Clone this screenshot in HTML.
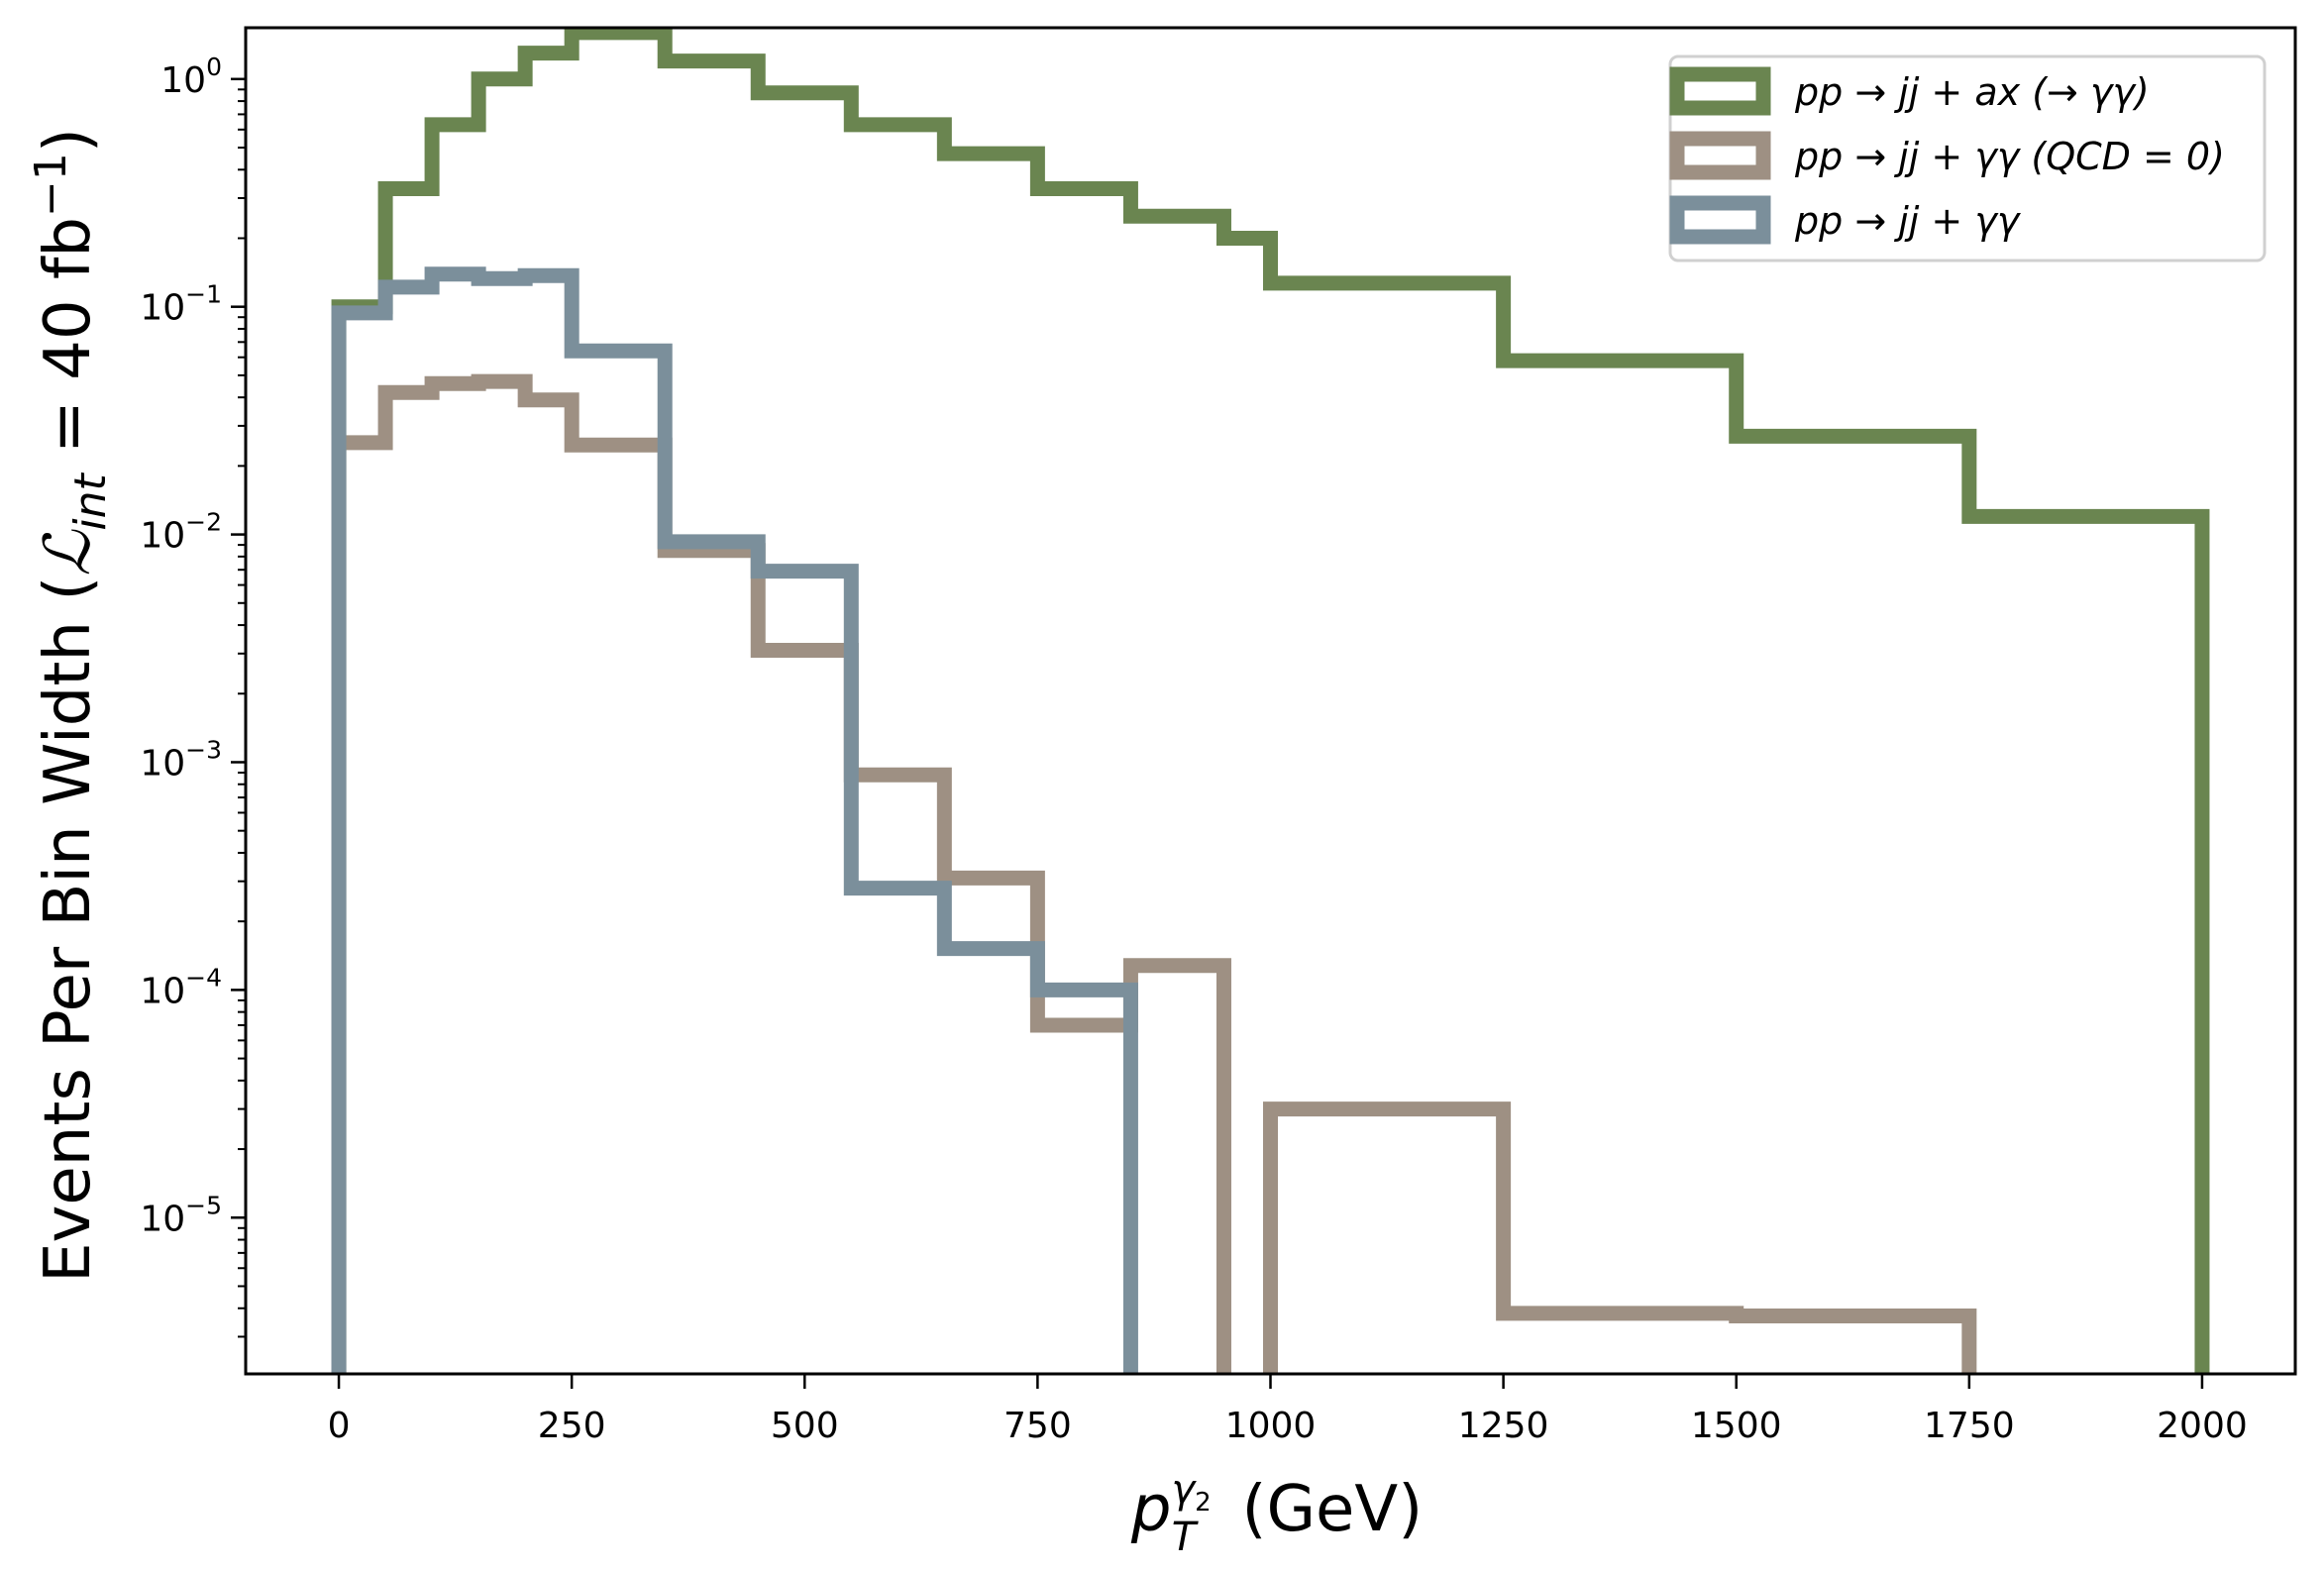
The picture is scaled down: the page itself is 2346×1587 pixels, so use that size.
<!DOCTYPE html>
<html><head><meta charset="utf-8"><style>
html,body{margin:0;padding:0;background:#fff;}
svg{display:block;font-family:"DejaVu Sans","Liberation Sans",sans-serif;}
</style></head><body>
<svg id="chart" width="2346" height="1587" viewBox="0 0 2346 1587" xmlns="http://www.w3.org/2000/svg">
<rect width="2346" height="1587" fill="#fff"/>
<g id="series"></g>
<g id="axes"></g>
<g id="legend">
  <rect x="1686" y="57" width="600" height="206" rx="8" fill="#fff" fill-opacity="0.8" stroke="#d0d0d0" stroke-width="3"/>
  <g>
    <rect x="1693" y="75" width="87" height="34" fill="none" stroke="#6a8550" stroke-width="15"/>
    <text x="1812" y="106" font-size="38" font-style="italic">pp → jj + ax (→ γγ)</text>
  </g>
  <g>
    <rect x="1693" y="140" width="87" height="34" fill="none" stroke="#9e9083" stroke-width="15"/>
    <text x="1812" y="171" font-size="38" font-style="italic">pp → jj + γγ (QCD = 0)</text>
  </g>
  <g>
    <rect x="1693" y="205" width="87" height="34" fill="none" stroke="#7b8f9b" stroke-width="15"/>
    <text x="1812" y="236" font-size="38" font-style="italic">pp → jj + γγ</text>
  </g>
</g>
<text x="1289" y="1545" font-size="64" text-anchor="middle"><tspan font-style="italic">p</tspan><tspan font-size="40" font-style="italic" dy="-28">γ</tspan><tspan font-size="26" dy="8">2</tspan><tspan font-size="40" font-style="italic" dx="-40" dy="40">T</tspan><tspan dy="-20" dx="26"> (GeV)</tspan></text>
<text transform="translate(90,712) rotate(-90)" font-size="64" text-anchor="middle">Events Per Bin Width (<tspan font-style="italic" font-family="Liberation Serif,serif">ℒ</tspan><tspan font-size="44" font-style="italic" dy="16">int</tspan><tspan dy="-16"> = 40 fb</tspan><tspan font-size="44" dy="-24">−1</tspan><tspan dy="24">)</tspan></text>
</svg>
<script>
const binEdges = [0,50,100,150,200,250,300,350,450,550,650,750,850,950,1000,1250,1500,1750,2000];
const signalValues = [0.1,0.33,0.63,1.0,1.3,1.6,1.6,1.2,0.87,0.63,0.47,0.33,0.25,0.2,0.127,0.058,0.027,0.012];
const qcd0Values = [0.0253,0.042,0.046,0.047,0.039,0.0247,0.0247,0.0085,0.0031,0.00088,0.00031,0.00007,0.000128,0,0.00003,0.0000038,0.0000037,0];
const bkgValues = [0.094,0.122,0.139,0.133,0.137,0.064,0.064,0.0093,0.0069,0.00028,0.000152,0.0001,0,0,0,0,0,0];
const xTicks = [0,250,500,750,1000,1250,1500,1750,2000];
const yDecades = [0,-1,-2,-3,-4,-5];

const L=248,R=2317,T=28,B=1387;
const xMin=-100,xMax=2100;
const yMinLog=Math.log10(2.06e-6), yMaxLog=Math.log10(1.68);
const xs=v=>L+(v-xMin)/(xMax-xMin)*(R-L);
const ys=v=>{if(v<=0)return B+40;return B-(Math.log10(v)-yMinLog)/(yMaxLog-yMinLog)*(B-T);};
const NS="http://www.w3.org/2000/svg";
const mk=(t,a)=>{const e=document.createElementNS(NS,t);for(const k in a)e.setAttribute(k,a[k]);return e;};

const sg=document.getElementById('series');
const clip=mk('clipPath',{id:'plotclip'});clip.appendChild(mk('rect',{x:L,y:T,width:R-L,height:B-T}));sg.appendChild(clip);
function step(vals,color,name){
  let d=`M${xs(binEdges[0])},${B+40}`;
  for(let i=0;i<vals.length;i++){d+=` L${xs(binEdges[i])},${ys(vals[i])} L${xs(binEdges[i+1])},${ys(vals[i])}`;}
  d+=` L${xs(binEdges[vals.length])},${B+40}`;
  const p=mk('path',{d:d,fill:'none',stroke:color,'stroke-width':15,'stroke-linejoin':'miter','clip-path':'url(#plotclip)'});
  
  
  sg.appendChild(p);
}
step(signalValues,'#6a8550','signal-histogram');
step(qcd0Values,'#9e9083','qcd0-histogram');
step(bkgValues,'#7b8f9b','background-histogram');

const ax=document.getElementById('axes');
const frame=mk('rect',{x:L,y:T,width:R-L,height:B-T,fill:'none',stroke:'#000','stroke-width':3});


ax.appendChild(frame);
xTicks.forEach(v=>{
  const x=xs(v);
  ax.appendChild(mk('line',{x1:x,y1:B,x2:x,y2:B+15,stroke:'#000','stroke-width':2.5}));
  const t=mk('text',{x:x,y:1451,'font-size':36,'text-anchor':'middle'});t.textContent=v;
  
  
  ax.appendChild(t);
});
yDecades.forEach(p=>{
  const y=ys(Math.pow(10,p));
  ax.appendChild(mk('line',{x1:L-15,y1:y,x2:L,y2:y,stroke:'#000','stroke-width':2.5}));
  const t=mk('text',{x:224,y:y+13,'font-size':36,'text-anchor':'end'});
  
  
  t.appendChild(document.createTextNode('10'));
  const s=mk('tspan',{'font-size':25,dy:-17});s.textContent=p===0?'0':'−'+(-p);t.appendChild(s);
  ax.appendChild(t);
});
for(let p=-6;p<=0;p++){for(let m=2;m<=9;m++){const v=m*Math.pow(10,p);const y=ys(v);if(y<T||y>B)continue;
  ax.appendChild(mk('line',{x1:L-8,y1:y,x2:L,y2:y,stroke:'#000','stroke-width':2}));}}
</script>
</body></html>
